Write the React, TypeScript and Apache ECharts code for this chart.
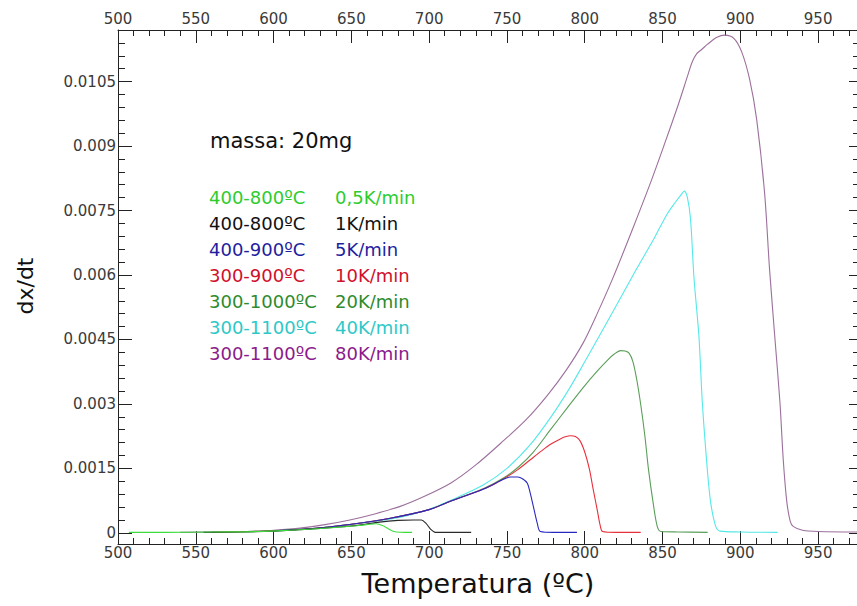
import { useEffect, useRef } from 'react';
import * as echarts from 'echarts';

// dx/dt curves, one per heating rate: temperature (ºC) and rate values
const T_05 = [507, 530, 560, 590, 610, 630, 645, 655, 662, 666, 670, 673, 676, 679, 684, 689];
const V_05 = [0.00001, 0.00001, 0.00002, 0.00003, 0.00006, 0.0001, 0.00014, 0.00017, 0.0002, 0.00021, 0.00017, 0.00011, 0.00005, 0.00002, 0.00001, 0.00001];

const T_1 = [555, 580, 600, 620, 640, 655, 668, 680, 690, 695, 698, 701, 704, 715, 727];
const V_1 = [0.00001, 0.00002, 0.00004, 0.00008, 0.00013, 0.00018, 0.00025, 0.00029, 0.0003, 0.0003, 0.00022, 0.00008, 0.00001, 0.00001, 0.00001];

const T_5 = [600, 625, 650, 675, 700, 714, 735, 748, 752, 757, 760, 763, 765, 767, 769.5, 771.5, 780, 795];
const V_5 = [0.00005, 0.0001, 0.0002, 0.00034, 0.00054, 0.00074, 0.00102, 0.00125, 0.0013, 0.0013, 0.00126, 0.00116, 0.00092, 0.00061, 0.00022, 0.00003, 0.00001, 0.00001];

const T_10 = [560, 600, 625, 650, 675, 700, 714, 735, 748, 757, 765, 772, 778, 784, 788, 791, 794, 797, 800, 803, 805.5, 808, 810, 811.5, 820, 836];
const V_10 = [0.00001, 0.00005, 0.0001, 0.0002, 0.00034, 0.00054, 0.00074, 0.00102, 0.00126, 0.00147, 0.0017, 0.0019, 0.00206, 0.00218, 0.00224, 0.00226, 0.00224, 0.00214, 0.00188, 0.00148, 0.001, 0.00054, 0.00016, 0.00003, 0.00001, 0.00001];

const T_20 = [560, 600, 625, 650, 675, 700, 714, 735, 748, 757, 767, 778, 789, 799, 808, 815, 819, 823, 826, 828.5, 831, 833.5, 836, 838.7, 841, 844, 846.6, 849, 860, 879];
const V_20 = [0.00001, 0.00005, 0.0001, 0.0002, 0.00034, 0.00054, 0.00074, 0.00103, 0.00128, 0.00152, 0.00188, 0.0024, 0.00292, 0.00338, 0.00376, 0.00403, 0.00416, 0.00424, 0.00423, 0.00418, 0.00398, 0.00355, 0.00298, 0.00224, 0.00147, 0.00069, 0.00015, 0.00003, 0.00002, 0.00001];

const T_40 = [560, 600, 625, 650, 681, 700, 714, 735, 750, 765, 778, 790, 800, 810, 822, 833, 845, 853, 858, 862, 864, 866, 868, 870.2, 873.4, 875.6, 878.8, 881, 884.2, 887, 900, 924];
const V_40 = [0.00001, 0.00005, 0.0001, 0.0002, 0.00036, 0.00055, 0.00076, 0.00112, 0.0015, 0.00205, 0.00268, 0.00335, 0.00398, 0.00462, 0.0054, 0.00612, 0.00688, 0.00742, 0.00768, 0.00787, 0.00795, 0.0078, 0.0073, 0.00594, 0.00457, 0.00302, 0.00147, 0.00069, 0.00015, 0.00004, 0.00002, 0.00001];

const T_80 = [540, 565, 585, 600, 617, 633, 649, 665, 681, 697, 714, 730, 748, 762, 776, 788, 799, 808, 818, 830, 842, 851, 860, 866, 869, 872, 875, 879, 885, 890, 896, 901, 906, 910.5, 915.6, 918.8, 922.3, 925.5, 927.6, 929.8, 932, 934, 940, 950, 975];
const V_80 = [0.00001, 0.00002, 0.00003, 0.00006, 0.00011, 0.00019, 0.0003, 0.00044, 0.00061, 0.00085, 0.00116, 0.00158, 0.00215, 0.00262, 0.0032, 0.00378, 0.00442, 0.0051, 0.00592, 0.007, 0.00812, 0.00902, 0.00995, 0.01062, 0.01095, 0.01115, 0.01124, 0.01137, 0.01153, 0.01158, 0.0115, 0.01118, 0.01055, 0.00962, 0.00791, 0.00613, 0.0045, 0.00302, 0.0017, 0.00075, 0.00028, 0.00015, 0.00006, 0.00003, 0.00002];

// legend columns: temperature programme and heating rate
const RANGES = ['400-800ºC', '400-800ºC', '400-900ºC', '300-900ºC', '300-1000ºC', '300-1100ºC', '300-1100ºC'];
const RATES = ['0,5K/min', '1K/min', '5K/min', '10K/min', '20K/min', '40K/min', '80K/min'];
const TEXT_COLORS = ['#2ecc2e', '#111111', '#1e1ea0', '#d0102c', '#2e8b2e', '#2ec8c8', '#8b1a8b'];
const LINE_COLORS = ['#3ddc3d', '#2a2a2a', '#2828c0', '#e8303c', '#5a9e5a', '#55e8e8', '#9c709c'];

const CURVES = [
  [T_05, V_05],
  [T_1, V_1],
  [T_5, V_5],
  [T_10, V_10],
  [T_20, V_20],
  [T_40, V_40],
  [T_80, V_80],
];

const X_MIN = 500;
const X_MAX = 975;
const Y_MIN = -0.00026;
const Y_MAX = 0.0117;
const X_MAJOR = [500, 550, 600, 650, 700, 750, 800, 850, 900, 950];
const Y_MAJOR = [0, 0.0015, 0.003, 0.0045, 0.006, 0.0075, 0.009, 0.0105];

const X_MINOR: number[] = [];
for (let t = 510; t < X_MAX; t += 10) if (t % 50 !== 0) X_MINOR.push(t);
const Y_MINOR: number[] = [];
for (let k = 1; k <= 38; k++) if (k % 5 !== 0) Y_MINOR.push(Math.round(k * 3) / 10000);

const FONT = 'DejaVu Sans';
const AXIS_COLOR = '#222';
const LABEL_COLOR = '#3a3a3a';

function xAxisDef(position: 'top' | 'bottom', values: number[], len: number, labels: boolean, line: boolean) {
  return {
    type: 'value',
    position,
    min: X_MIN,
    max: X_MAX,
    axisLine: { show: line, onZero: false, lineStyle: { color: AXIS_COLOR, width: 1 } },
    axisTick: { show: true, inside: true, length: len, customValues: values, lineStyle: { color: AXIS_COLOR, width: 1 } },
    axisLabel: {
      show: labels,
      customValues: values,
      margin: position === 'top' ? 4 : 1,
      color: LABEL_COLOR,
      fontFamily: FONT,
      fontSize: 15,
    },
    splitLine: { show: false },
  };
}

function yAxisDef(position: 'left' | 'right', values: number[], len: number, labels: boolean, line: boolean) {
  return {
    type: 'value',
    position,
    min: Y_MIN,
    max: Y_MAX,
    axisLine: { show: line, onZero: false, lineStyle: { color: AXIS_COLOR, width: 1 } },
    axisTick: { show: true, inside: true, length: len, customValues: values, lineStyle: { color: AXIS_COLOR, width: 1 } },
    axisLabel: {
      show: labels,
      customValues: values,
      margin: 2,
      color: LABEL_COLOR,
      fontFamily: FONT,
      fontSize: 15,
      formatter: (v: number) => (v === 0 ? '0' : String(Number(v.toFixed(4)))),
    },
    splitLine: { show: false },
  };
}

const legendTexts: any[] = [];
RANGES.forEach((r, i) => {
  const y = 197 + i * 26;
  legendTexts.push({
    type: 'text',
    x: 209,
    y,
    style: { text: r, fill: TEXT_COLORS[i], font: `18px "${FONT}"`, verticalAlign: 'middle', align: 'left' },
  });
  legendTexts.push({
    type: 'text',
    x: 335,
    y,
    style: { text: RATES[i], fill: TEXT_COLORS[i], font: `18px "${FONT}"`, verticalAlign: 'middle', align: 'left' },
  });
});

// slow-rate curves are drawn last so they stay visible where the curves overlap
const drawOrder = [6, 5, 4, 3, 2, 1, 0];

const option = {
  animation: false,
  backgroundColor: '#ffffff',
  grid: { left: 118, right: 0, top: 30, bottom: 62, containLabel: false },
  xAxis: [
    xAxisDef('bottom', X_MAJOR, 13, true, true),
    xAxisDef('bottom', X_MINOR, 6, false, false),
    xAxisDef('top', X_MAJOR, 13, true, true),
    xAxisDef('top', X_MINOR, 6, false, false),
  ],
  yAxis: [
    yAxisDef('left', Y_MAJOR, 14, true, true),
    yAxisDef('left', Y_MINOR, 7, false, false),
    yAxisDef('right', Y_MAJOR, 8, false, true),
    yAxisDef('right', Y_MINOR, 4, false, false),
  ],
  series: drawOrder.map((i) => ({
    name: RATES[i],
    type: 'line',
    xAxisIndex: 0,
    yAxisIndex: 0,
    data: CURVES[i][0].map((t, k) => [t, CURVES[i][1][k]]),
    showSymbol: false,
    smooth: 0.3,
    lineStyle: { color: LINE_COLORS[i], width: 1.1 },
    z: 2 + (6 - i),
  })),
  graphic: [
    {
      type: 'text',
      x: 210,
      y: 141,
      style: { text: 'massa: 20mg', fill: '#111', font: `21px "${FONT}"`, verticalAlign: 'middle', align: 'left' },
    },
    ...legendTexts,
    {
      type: 'text',
      x: 478,
      y: 583,
      style: { text: 'Temperatura (ºC)', fill: '#111', font: `27px "${FONT}"`, verticalAlign: 'middle', align: 'center' },
    },
    {
      type: 'text',
      x: 25,
      y: 286,
      rotation: Math.PI / 2,
      style: { text: 'dx/dt', fill: '#111', font: `22px "${FONT}"`, verticalAlign: 'middle', align: 'center' },
    },
  ],
};

export default function App() {
  const ref = useRef<HTMLDivElement>(null);
  useEffect(() => {
    const chart = echarts.init(ref.current!, null, { renderer: 'svg' });
    chart.setOption(option as any);
    return () => chart.dispose();
  }, []);
  return (
    <div
      ref={ref}
      style={{ position: 'fixed', left: 0, top: 0, width: 857, height: 606, background: '#fff' }}
    />
  );
}
